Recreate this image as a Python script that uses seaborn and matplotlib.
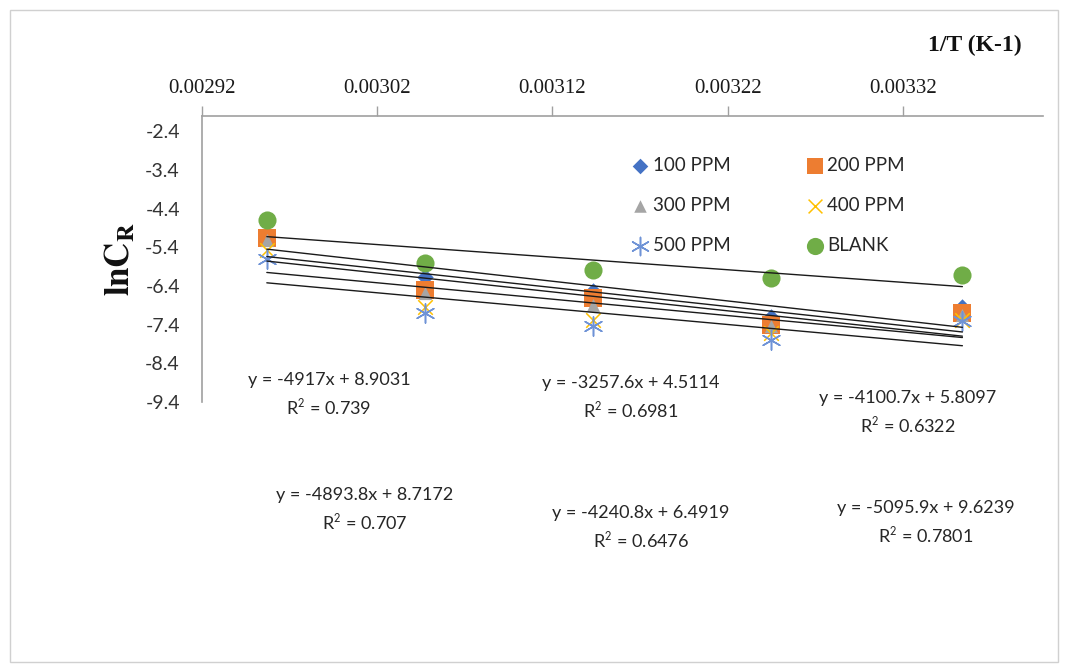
import numpy as np
import pandas as pd
import matplotlib
matplotlib.use("Agg")
import matplotlib.pyplot as plt
import seaborn as sns
from matplotlib.patches import Rectangle

sns.set_theme(style="white")
plt.rcParams['font.family'] = ['Lato', 'DejaVu Sans']
plt.rcParams['mathtext.fontset'] = 'stix'

# ---- data ----
inv_T = [0.002957, 0.003047, 0.003143, 0.003245, 0.003354]
series_names = ["100 PPM", "200 PPM", "300 PPM", "400 PPM", "500 PPM", "BLANK"]
ln_100 = [-5.11, -6.16, -6.52, -7.19, -6.93]
ln_200 = [-5.16, -6.50, -6.71, -7.40, -7.10]
ln_300 = [-5.21, -6.58, -6.89, -7.44, -7.14]
ln_400 = [-5.47, -6.94, -7.27, -7.61, -7.27]
ln_500 = [-5.70, -7.09, -7.44, -7.79, -7.31]
ln_blank = [-4.70, -5.81, -5.98, -6.20, -6.11]

# trendline coefficients (slope, intercept, R^2) per series
slopes = [-5095.9, -4917.0, -4893.8, -4240.8, -4100.7, -3257.6]
intercepts = [9.6239, 8.9031, 8.7172, 6.4919, 5.8097, 4.5114]
r2_values = ["0.7801", "0.739", "0.707", "0.6476", "0.6322", "0.6981"]
eq_texts = ["y = -5095.9x + 9.6239", "y = -4917x + 8.9031", "y = -4893.8x + 8.7172",
            "y = -4240.8x + 6.4919", "y = -4100.7x + 5.8097", "y = -3257.6x + 4.5114"]

x_ticks = [0.00292, 0.00302, 0.00312, 0.00322, 0.00332]
x_tick_labels = ["0.00292", "0.00302", "0.00312", "0.00322", "0.00332"]
y_ticks = [-2.4, -3.4, -4.4, -5.4, -6.4, -7.4, -8.4, -9.4]
y_tick_labels = ["-2.4", "-3.4", "-4.4", "-5.4", "-6.4", "-7.4", "-8.4", "-9.4"]

values = [ln_100, ln_200, ln_300, ln_400, ln_500, ln_blank]
rows = []
for name, vals in zip(series_names, values):
    for x, v in zip(inv_T, vals):
        rows.append({"x": x, "y": v, "series": name})
df = pd.DataFrame(rows)

colors = {"100 PPM": "#4472C4", "200 PPM": "#ED7D31", "300 PPM": "#A5A5A5",
          "400 PPM": "#FFC000", "500 PPM": "#6F93D6", "BLANK": "#70AD47"}
markers = {"100 PPM": "D", "200 PPM": "s", "300 PPM": "^",
           "400 PPM": "x", "500 PPM": (6, 2, 0), "BLANK": "o"}
sizes = {"100 PPM": 70, "200 PPM": 150, "300 PPM": 90,
         "400 PPM": 110, "500 PPM": 190, "BLANK": 170}

W, H = 1069, 672
fig = plt.figure(figsize=(W / 100, H / 100), dpi=100)
fig.patch.set_facecolor("white")
ax = fig.add_axes([202 / W, 1 - 402 / H, (1043 - 202) / W, (402 - 116) / H])

for name in series_names:
    sub = df[df.series == name]
    lw = 1.1 if name in ("400 PPM", "500 PPM") else 0
    sns.scatterplot(data=sub, x="x", y="y", ax=ax, color=colors[name],
                    marker=markers[name], s=sizes[name], linewidth=lw,
                    edgecolor=colors[name] if lw == 0 else None,
                    label=name, zorder=3)

# trendlines
xs = np.array([min(inv_T), max(inv_T)])
for name, m, b in zip(series_names, slopes, intercepts):
    sns.lineplot(x=xs, y=m * xs + b, ax=ax, color="#1a1a1a", lw=1.0, zorder=4,
                 legend=False)

ax.set_xlim(0.00292, 0.0034)
ax.set_ylim(-9.4, -2.0)
ax.set_xticks(x_ticks)
ax.set_xticklabels(x_tick_labels, fontfamily="Liberation Serif", fontsize=15)
ax.set_yticks(y_ticks)
ax.set_yticklabels(y_tick_labels, fontsize=14, color="#333333")
ax.xaxis.tick_top()
ax.tick_params(axis="x", direction="out", length=7, width=1, color="#A0A0A0", pad=6)
ax.tick_params(axis="y", direction="out", length=5, width=1, color="#A0A0A0", pad=11)
for ticklabel in ax.get_xticklabels():
    ticklabel.set_color("#1a1a1a")
for s in ["right", "bottom"]:
    ax.spines[s].set_visible(False)
for s in ["left", "top"]:
    ax.spines[s].set_color("#A0A0A0")
    ax.spines[s].set_linewidth(1.2)
ax.set_xlabel("")
ax.set_ylabel(r"$\mathbf{lnC_R}$", fontsize=25, labelpad=6, color="#111111")
ax.grid(False)

handles, labels = ax.get_legend_handles_labels()
order = [0, 2, 4, 1, 3, 5]  # row-wise reading: 100,200 / 300,400 / 500,BLANK
leg = ax.legend([handles[i] for i in order], [labels[i] for i in order],
                ncol=2, loc="upper left", bbox_to_anchor=(0.49, 0.915),
                frameon=False, fontsize=13.5, handletextpad=0.15,
                columnspacing=4.0, labelspacing=1.23, markerscale=0.95,
                handlelength=1.0)
for t in leg.get_texts():
    t.set_color("#262626")

fig.text(975 / W, 1 - 45 / H, "1/T (K-1)", fontfamily="Liberation Serif",
         fontweight="bold", fontsize=17, ha="center", va="center", color="#111111")

# equation labels (pixel centres)
label_pos = {"100 PPM": (926, 508), "200 PPM": (329, 380), "300 PPM": (365, 495),
             "400 PPM": (641, 513), "500 PPM": (908, 398), "BLANK": (631, 383)}
for name, eq, r2 in zip(series_names, eq_texts, r2_values):
    px, py = label_pos[name]
    fig.text(px / W, 1 - py / H, eq, fontsize=13, ha="center", va="center",
             color="#262626")
    fig.text(px / W, 1 - (py + 27) / H, "R$^{\\mathsf{2}}$ = " + r2, fontsize=13,
             ha="center", va="center", color="#262626")

fig.add_artist(Rectangle((10 / W, 1 - 662 / H), 1048 / W, 652 / H,
                         transform=fig.transFigure, fill=False,
                         edgecolor="#D0D0D0", lw=1))

fig.savefig("out.png", dpi=100, facecolor="white")
